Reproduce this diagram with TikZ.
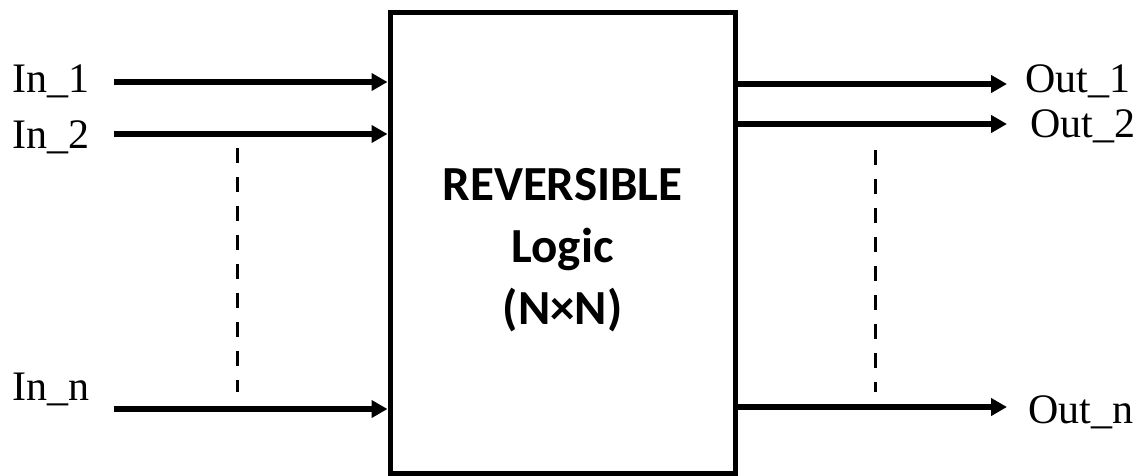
\documentclass[tikz,border=0pt]{standalone}
\usepackage{fontspec}
\setmainfont{Liberation Serif}
\newfontfamily\boxFont{Carlito}
\usetikzlibrary{arrows.meta}

\begin{document}
\begin{tikzpicture}[x=1pt, y=-1pt,
    signal/.style={line width=5.5pt, -{Triangle[length=16pt,width=17pt]}},
    dots/.style={line width=3pt, dash pattern=on 15pt off 14pt},
    label/.style={font=\fontsize{42}{42}\selectfont, inner sep=0pt, anchor=base west}]
    \useasboundingbox (0,0) rectangle (1145,476);

    % Draw box
    \node[draw, line width=5pt, minimum width=345pt, minimum height=460pt, inner sep=0pt]
        (box) at (562.5,243) {};
    \node[font=\boxFont\bfseries\fontsize{49}{62}\selectfont, align=center, inner sep=0pt]
        (title) at ([yshift=-7pt]box.center) {REVERSIBLE\\Logic\\(N×N)};

    % Inputs
    \node[label] (lblIn1) at (12,93) {In\_1};
    \node[label] (lblIn2) at (12,148) {In\_2};
    \node[label] (lblInN) at (12,400) {In\_n};
    \coordinate (in1) at (114,82);
    \coordinate (in2) at (114,134);
    \coordinate (inN) at (114,409);
    \foreach \p in {in1,in2,inN}
        \draw[signal] (\p) -- (\p -| box.west);

    % Outputs
    \coordinate (out1) at (1007,84);
    \coordinate (out2) at (1007,124);
    \coordinate (outN) at (1007,407);
    \node[label] (lblOut1) at (1025,93) {Out\_1};
    \node[label] (lblOut2) at (1030,138) {Out\_2};
    \node[label] (lblOutN) at (1028,423) {Out\_n};
    \foreach \p in {out1,out2,outN}
        \draw[signal] (\p -| box.east) -- (\p);

    % Dashed continuation
    \draw[dots] (237,148) -- (237,392);
    \draw[dots] (875,150) -- (875,392);
\end{tikzpicture}
\end{document}
